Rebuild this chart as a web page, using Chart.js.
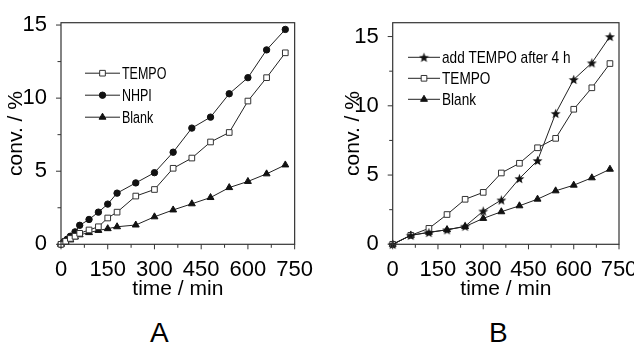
<!DOCTYPE html>
<html><head><meta charset="utf-8">
<script src="https://cdn.jsdelivr.net/npm/chart.js@4/dist/chart.umd.min.js"></script>
<style>
html,body{margin:0;padding:0;background:#fff;overflow:hidden;width:634px;height:346px;}
#wa{position:absolute;left:0;top:0;width:317px;height:302px;}
#wb{position:absolute;left:317px;top:0;width:330px;height:302px;}
.lab{position:absolute;font-family:'Liberation Sans',Arial,sans-serif;font-size:28px;color:#000;top:319px;line-height:1;}
</style></head><body>
<div id="wa"><canvas id="ca"></canvas></div>
<div id="wb"><canvas id="cb"></canvas></div>
<div class="lab" style="left:150px">A</div>
<div class="lab" style="left:489px">B</div>
<script>
// ---------- Panel A data ----------
const timeA_tempo = [0,15,30,45,60,90,120,150,180,240,300,360,420,480,540,600,660,720];
const convA_tempo = [0,0.2,0.4,0.55,0.75,0.98,1.2,1.8,2.2,3.3,3.75,5.2,5.9,7.0,7.65,9.8,11.4,13.1];
const timeA_nhpi  = [0,10,20,30,45,60,90,120,150,180,240,300,360,420,480,540,600,660,720];
const convA_nhpi  = [0,0.2,0.35,0.55,0.85,1.3,1.7,2.2,2.75,3.5,4.2,4.9,6.3,7.95,8.7,10.3,11.4,13.3,14.7];
const timeA_blank = [0,15,30,45,60,90,120,150,180,240,300,360,420,480,540,600,660,720];
const convA_blank = [0,0.15,0.3,0.5,0.65,0.8,0.95,1.07,1.2,1.32,1.88,2.35,2.77,3.2,3.88,4.3,4.82,5.43];
// ---------- Panel B data ----------
const timeB = [0,60,120,180,240,300,360,420,480,540,600,660,720];
const convB_addTempo = [0,0.65,0.85,1.05,1.3,2.4,3.2,4.75,6.05,9.45,11.9,13.1,15.0];
const convB_tempo    = [0,0.65,1.15,2.15,3.25,3.75,5.15,5.85,6.97,7.65,9.75,11.3,13.05];
const convB_blank    = [0,0.65,0.87,1.05,1.28,1.87,2.35,2.78,3.26,3.86,4.27,4.8,5.42];
// ---------- labels ----------
const labelsA = ['TEMPO','NHPI','Blank'];
const labelsB = ['add TEMPO after 4 h','TEMPO','Blank'];
const xTitle = 'time / min';
const yTitle = 'conv. / %';

const pts = (t, v) => t.map((x, i) => ({x: x, y: v[i]}));

// filled five-point star marker
const star = document.createElement('canvas');
star.width = 11; star.height = 11;
(function(){
  const c = star.getContext('2d');
  c.fillStyle = '#111';
  c.beginPath();
  for (let i = 0; i < 10; i++) {
    const r = i % 2 === 0 ? 5.2 : 2.2;
    const a = -Math.PI / 2 + i * Math.PI / 5;
    const px = 5.5 + r * Math.cos(a), py = 6 + r * Math.sin(a);
    if (i === 0) c.moveTo(px, py); else c.lineTo(px, py);
  }
  c.closePath(); c.fill();
})();

const LINE = '#222';
const styles = {
  tempo: {pointStyle:'rect', pointRadius:4, pointBackgroundColor:'#fff', pointBorderColor:'#333', pointBorderWidth:1},
  nhpi:  {pointStyle:'circle', pointRadius:3.2, pointBackgroundColor:'#111', pointBorderColor:'#111', pointBorderWidth:1},
  blank: {pointStyle:'triangle', pointRadius:4, pointBackgroundColor:'#111', pointBorderColor:'#111', pointBorderWidth:1},
  star:  {pointStyle:star, pointRadius:5, pointBackgroundColor:'#111', pointBorderColor:'#111', pointBorderWidth:1}
};
function ds(label, data, st) {
  return Object.assign({label, data, borderColor: LINE, borderWidth: 1, tension: 0, clip: false,
    pointHoverRadius: st.pointRadius}, st);
}

const framePlugin = {
  id: 'frame',
  afterDraw(chart, args, o) {
    const {ctx, chartArea: a, scales: {x, y}} = chart;
    ctx.save();
    ctx.strokeStyle = '#333'; ctx.lineWidth = 1.2;
    ctx.strokeRect(a.left, a.top, a.right - a.left, a.bottom - a.top);
    ctx.lineWidth = 1;
    for (let v = 0; v <= x.max + 1e-9; v += o.xMinor) {
      const px = x.getPixelForValue(v);
      const major = Math.abs(v / o.xMajor - Math.round(v / o.xMajor)) < 1e-6;
      ctx.beginPath(); ctx.moveTo(px, a.bottom); ctx.lineTo(px, a.bottom + (major ? 5 : 3.5)); ctx.stroke();
    }
    for (let v = 0; v <= y.max + 1e-9; v += o.yMinor) {
      const py = y.getPixelForValue(v);
      const major = Math.abs(v / o.yMajor - Math.round(v / o.yMajor)) < 1e-6;
      ctx.beginPath(); ctx.moveTo(a.left, py); ctx.lineTo(a.left - (major ? 5 : 3.5), py); ctx.stroke();
    }
    ctx.restore();
  }
};

const legendPlugin = {
  id: 'lineLegend',
  afterDraw(chart, args, o) {
    const {ctx, chartArea: a} = chart;
    ctx.save();
    chart.data.datasets.forEach((d, i) => {
      const x0 = a.left + o.x, yy = a.top + o.y + i * o.gap;
      ctx.strokeStyle = d.borderColor; ctx.lineWidth = 1;
      ctx.beginPath(); ctx.moveTo(x0, yy); ctx.lineTo(x0 + o.len, yy); ctx.stroke();
      ctx.fillStyle = d.pointBackgroundColor; ctx.strokeStyle = d.pointBorderColor; ctx.lineWidth = d.pointBorderWidth;
      Chart.helpers.drawPoint(ctx, {pointStyle: d.pointStyle, radius: d.pointRadius, rotation: 0, borderWidth: d.pointBorderWidth}, x0 + o.len / 2, yy);
      ctx.save();
      ctx.translate(x0 + o.len + o.textGap, yy + 1);
      ctx.scale(o.squeeze, 1);
      ctx.font = o.font;
      ctx.textBaseline = 'middle';
      ctx.textAlign = 'left';
      ctx.fillStyle = '#000';
      ctx.fillText(d.label, 0, 0);
      ctx.restore();
    });
    ctx.restore();
  }
};

const tickFont = {family: "'Liberation Sans',Arial,sans-serif", size: 22};
const titleFont = {family: "'Liberation Sans',Arial,sans-serif", size: 21};

function makeOptions(cfg) {
  return {
    responsive: true, maintainAspectRatio: false, animation: false, devicePixelRatio: 1,
    layout: {padding: {left: cfg.padLeft, right: cfg.padRight, top: 22.7, bottom: 0}},
    scales: {
      x: {
        type: 'linear', min: 0, max: 750,
        grid: {display: false}, border: {display: false},
        ticks: {stepSize: 150, padding: 4, color: '#000', font: tickFont, maxRotation: 0},
        title: {display: true, text: xTitle, color: '#000', font: titleFont, padding: 0},
        afterFit(s) { s.height = cfg.xHeight; }
      },
      y: {
        min: 0, max: cfg.yMax,
        grid: {display: false}, border: {display: false},
        ticks: {stepSize: 5, includeBounds: false, padding: 6, color: '#000', font: tickFont},
        title: {display: true, text: yTitle, color: '#000', font: titleFont, padding: 0},
        afterFit(s) { s.width = cfg.yWidth; }
      }
    },
    plugins: {
      legend: {display: false}, tooltip: {enabled: false},
      frame: {xMinor: 75, xMajor: 150, yMinor: 2.5, yMajor: 5},
      lineLegend: cfg.legend
    }
  };
}

new Chart(document.getElementById('ca'), {
  type: 'line',
  data: {datasets: [
    ds(labelsA[0], pts(timeA_tempo, convA_tempo), styles.tempo),
    ds(labelsA[1], pts(timeA_nhpi, convA_nhpi), styles.nhpi),
    ds(labelsA[2], pts(timeA_blank, convA_blank), styles.blank)
  ]},
  options: makeOptions({padLeft: 3.5, padRight: 19, yWidth: 57.5, xHeight: 57.7, yMax: 15.16,
    legend: {x: 24, y: 50.5, gap: 22, len: 35, textGap: 2, squeeze: 0.78, font: "16px 'Liberation Sans',Arial,sans-serif"}}),
  plugins: [framePlugin, legendPlugin]
});

new Chart(document.getElementById('cb'), {
  type: 'line',
  data: {datasets: [
    ds(labelsB[0], pts(timeB, convB_addTempo), styles.star),
    ds(labelsB[1], pts(timeB, convB_tempo), styles.tempo),
    ds(labelsB[2], pts(timeB, convB_blank), styles.blank)
  ]},
  options: makeOptions({padLeft: 23.4, padRight: 28, yWidth: 52.3, xHeight: 57.7, yMax: 16,
    legend: {x: 15.3, y: 34.6, gap: 21, len: 32, textGap: 2, squeeze: 0.8, font: "17px 'Liberation Sans',Arial,sans-serif"}}),
  plugins: [framePlugin, legendPlugin]
});
</script>
</body></html>
